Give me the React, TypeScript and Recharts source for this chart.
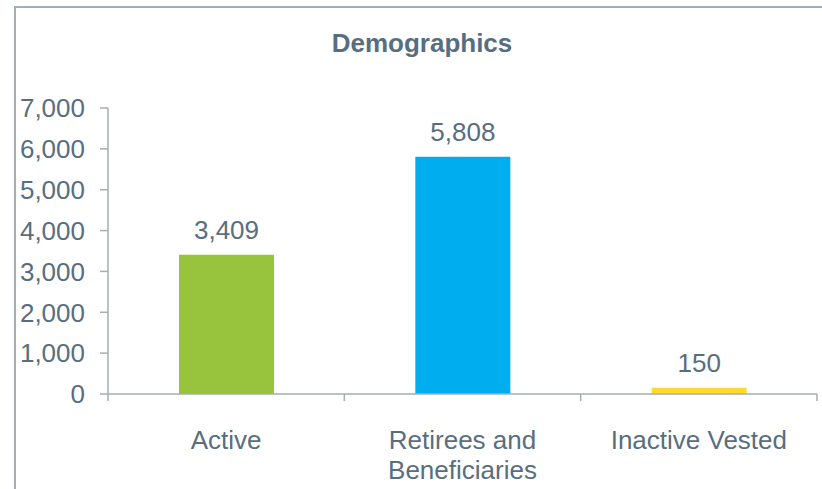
import * as React from "react";
import { BarChart, Bar, XAxis, YAxis, Cell, LabelList } from "recharts";

const categories = ["Active", "Retirees and Beneficiaries", "Inactive Vested"];
// how each category name is broken onto lines under the axis
const categoryLines: Record<string, string[]> = {
  Active: ["Active"],
  "Retirees and Beneficiaries": ["Retirees and", "Beneficiaries"],
  "Inactive Vested": ["Inactive Vested"],
};
const members = [3409, 5808, 150];
const barColors = ["#98C43D", "#00AEEF", "#FFD932"];
const yTicks = [0, 1000, 2000, 3000, 4000, 5000, 6000, 7000];

const data = categories.map((name, i) => ({ name, value: members[i] }));

const TEXT = "#586E80";
const AXIS = "#A6ADB4";
const FONT = "'Liberation Sans', Arial, sans-serif";
const X_TICK = 7;

const fmt = (v: number) => v.toLocaleString("en-US");

// label centred under the band, tick marks on the band edges (Excel style)
const CategoryTick = ({ x, y, payload, index, visibleTicksCount }: any) => {
  const lines = categoryLines[payload.value] || [payload.value];
  const half = payload.offset || 0;
  const axisY = y - X_TICK;
  const isLast = index === visibleTicksCount - 1;
  return (
    <g>
      <line x1={x - half} x2={x - half} y1={axisY} y2={y} stroke={AXIS} strokeWidth={1.5} />
      {isLast && (
        <line x1={x + half} x2={x + half} y1={axisY} y2={y} stroke={AXIS} strokeWidth={1.5} />
      )}
      <text x={x} y={y} textAnchor="middle" fill={TEXT} fontSize={26} fontFamily={FONT}>
        {lines.map((line, i) => (
          <tspan key={i} x={x} dy={i === 0 ? 48 : 30}>
            {line}
          </tspan>
        ))}
      </text>
    </g>
  );
};

export default function App() {
  return (
    <div
      style={{
        position: "absolute",
        left: 0,
        top: 0,
        width: 822,
        height: 489,
        background: "#fff",
        overflow: "hidden",
        fontFamily: FONT,
      }}
    >
      {/* cropped frame of the original slide box: only top + left edges show */}
      <div
        style={{
          position: "absolute",
          left: 14,
          top: 6,
          width: 900,
          height: 600,
          borderTop: `2px solid ${AXIS}`,
          borderLeft: `2px solid ${AXIS}`,
        }}
      />
      <div
        style={{
          position: "absolute",
          left: 0,
          width: 844,
          top: 30,
          textAlign: "center",
          fontSize: 26,
          lineHeight: "26px",
          fontWeight: "bold",
          color: TEXT,
        }}
      >
        Demographics
      </div>
      <div style={{ position: "absolute", left: 0, top: 0 }}>
        <BarChart
          width={822}
          height={489}
          data={data}
          margin={{ top: 108, right: 5, bottom: 0, left: 0 }}
        >
          <XAxis
            dataKey="name"
            axisLine={{ stroke: AXIS, strokeWidth: 1.5 }}
            tickLine={false}
            tickSize={X_TICK}
            tickMargin={0}
            tick={<CategoryTick />}
            interval={0}
            height={95}
          />
          <YAxis
            domain={[0, 7000]}
            ticks={yTicks}
            tickFormatter={fmt}
            width={108}
            axisLine={{ stroke: AXIS, strokeWidth: 1.5 }}
            tickLine={{ stroke: AXIS, strokeWidth: 1.5 }}
            tickSize={8}
            tickMargin={15}
            tick={{ fill: TEXT, fontSize: 26, fontFamily: FONT }}
            interval={0}
          />
          <Bar dataKey="value" barSize={95} isAnimationActive={false}>
            {data.map((d, i) => (
              <Cell key={d.name} fill={barColors[i]} />
            ))}
            <LabelList
              dataKey="value"
              position="top"
              offset={16}
              formatter={(v: any) => fmt(Number(v))}
              fill={TEXT}
              fontSize={26}
              fontFamily={FONT}
            />
          </Bar>
        </BarChart>
      </div>
    </div>
  );
}
